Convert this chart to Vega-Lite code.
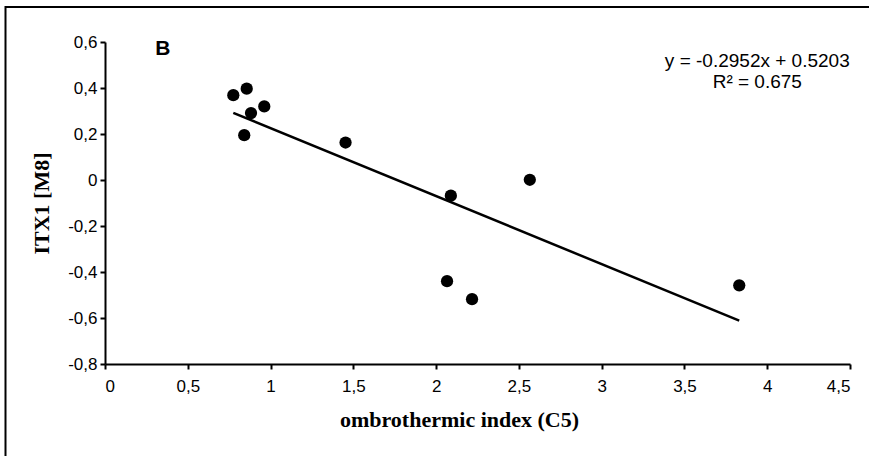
{
  "$schema": "https://vega.github.io/schema/vega-lite/v6.json",
  "width": 745,
  "height": 322,
  "autosize": {"type": "none"},
  "padding": {"left": 105, "top": 42, "right": 19, "bottom": 92},
  "background": "white",
  "config": {
    "view": {"stroke": null},
    "font": "Liberation Sans",
    "axis": {
      "grid": false, "domainColor": "black", "domainWidth": 2,
      "tickColor": "black", "tickWidth": 2, "tickSize": 5,
      "labelFont": "Liberation Sans", "labelFontSize": 17, "labelColor": "black",
      "titleFont": "Liberation Serif", "titleFontSize": 22, "titleFontWeight": "bold", "titleColor": "black",
      "labelExpr": "replace(replace(format(datum.value, '~g'), '.', ','), '\u2212', '-')"
    },
    "axisX": {"labelPadding": 9, "titlePadding": 15, "titleX": 354, "titleAlign": "center"},
    "axisY": {"labelPadding": 3, "titlePadding": 14}
  },
  "datasets": {
    "pts": [
      {"x": 0.775, "y": 0.369},
      {"x": 0.856, "y": 0.397},
      {"x": 0.882, "y": 0.291},
      {"x": 0.962, "y": 0.320},
      {"x": 0.841, "y": 0.195},
      {"x": 1.453, "y": 0.163},
      {"x": 2.089, "y": -0.068},
      {"x": 2.566, "y": 0.001},
      {"x": 2.066, "y": -0.440},
      {"x": 2.217, "y": -0.518},
      {"x": 3.831, "y": -0.458}
    ],
    "one": [{"k": 1}]
  },
  "layer": [
    {
      "data": {"name": "pts"},
      "mark": {"type": "circle", "color": "black", "opacity": 1, "size": 150},
      "encoding": {
        "x": {
          "field": "x", "type": "quantitative",
          "scale": {"domain": [0, 4.5], "nice": false, "zero": false},
          "axis": {"values": [0, 0.5, 1, 1.5, 2, 2.5, 3, 3.5, 4, 4.5], "title": "ombrothermic index (C5)"}
        },
        "y": {
          "field": "y", "type": "quantitative",
          "scale": {"domain": [-0.8, 0.6], "nice": false, "zero": false},
          "axis": {"values": [-0.8, -0.6, -0.4, -0.2, 0, 0.2, 0.4, 0.6], "title": "ITX1 [M8]"}
        }
      }
    },
    {
      "data": {"name": "pts"},
      "transform": [{"regression": "y", "on": "x"}],
      "mark": {"type": "line", "color": "black", "strokeWidth": 2.5},
      "encoding": {
        "x": {"field": "x", "type": "quantitative", "scale": {"domain": [0, 4.5], "nice": false, "zero": false},
          "axis": {"values": [0, 0.5, 1, 1.5, 2, 2.5, 3, 3.5, 4, 4.5], "title": "ombrothermic index (C5)"}},
        "y": {"field": "y", "type": "quantitative", "scale": {"domain": [-0.8, 0.6], "nice": false, "zero": false},
          "axis": {"values": [-0.8, -0.6, -0.4, -0.2, 0, 0.2, 0.4, 0.6], "title": "ITX1 [M8]"}}
      }
    },
    {
      "data": {"name": "one"},
      "mark": {"type": "rect", "fill": null, "stroke": "black", "strokeWidth": 2},
      "encoding": {
        "x": {"datum": -0.601, "type": "quantitative", "scale": {"domain": [0, 4.5], "nice": false, "zero": false},
          "axis": {"values": [0, 0.5, 1, 1.5, 2, 2.5, 3, 3.5, 4, 4.5], "title": "ombrothermic index (C5)"}},
        "x2": {"datum": 4.7},
        "y": {"datum": 0.752, "type": "quantitative", "scale": {"domain": [-0.8, 0.6], "nice": false, "zero": false},
          "axis": {"values": [-0.8, -0.6, -0.4, -0.2, 0, 0.2, 0.4, 0.6], "title": "ITX1 [M8]"}},
        "y2": {"datum": -1.217}
      }
    },
    {
      "data": {"name": "one"},
      "mark": {"type": "text", "text": "B", "font": "Liberation Sans", "fontWeight": "bold", "fontSize": 21, "color": "black", "align": "center", "baseline": "middle"},
      "encoding": {
        "x": {"datum": 0.349, "type": "quantitative", "scale": {"domain": [0, 4.5], "nice": false, "zero": false},
          "axis": {"values": [0, 0.5, 1, 1.5, 2, 2.5, 3, 3.5, 4, 4.5], "title": "ombrothermic index (C5)"}},
        "y": {"datum": 0.57, "type": "quantitative", "scale": {"domain": [-0.8, 0.6], "nice": false, "zero": false},
          "axis": {"values": [-0.8, -0.6, -0.4, -0.2, 0, 0.2, 0.4, 0.6], "title": "ITX1 [M8]"}}
      }
    },
    {
      "data": {"name": "one"},
      "mark": {"type": "text", "text": "y = -0.2952x + 0.5203", "font": "Liberation Sans", "fontSize": 19, "color": "black", "align": "center", "baseline": "middle"},
      "encoding": {
        "x": {"datum": 3.94, "type": "quantitative", "scale": {"domain": [0, 4.5], "nice": false, "zero": false},
          "axis": {"values": [0, 0.5, 1, 1.5, 2, 2.5, 3, 3.5, 4, 4.5], "title": "ombrothermic index (C5)"}},
        "y": {"datum": 0.517, "type": "quantitative", "scale": {"domain": [-0.8, 0.6], "nice": false, "zero": false},
          "axis": {"values": [-0.8, -0.6, -0.4, -0.2, 0, 0.2, 0.4, 0.6], "title": "ITX1 [M8]"}}
      }
    },
    {
      "data": {"name": "one"},
      "mark": {"type": "text", "text": "R² = 0.675", "font": "Liberation Sans", "fontSize": 19, "color": "black", "align": "center", "baseline": "middle"},
      "encoding": {
        "x": {"datum": 3.94, "type": "quantitative", "scale": {"domain": [0, 4.5], "nice": false, "zero": false},
          "axis": {"values": [0, 0.5, 1, 1.5, 2, 2.5, 3, 3.5, 4, 4.5], "title": "ombrothermic index (C5)"}},
        "y": {"datum": 0.427, "type": "quantitative", "scale": {"domain": [-0.8, 0.6], "nice": false, "zero": false},
          "axis": {"values": [-0.8, -0.6, -0.4, -0.2, 0, 0.2, 0.4, 0.6], "title": "ITX1 [M8]"}}
      }
    }
  ]
}
